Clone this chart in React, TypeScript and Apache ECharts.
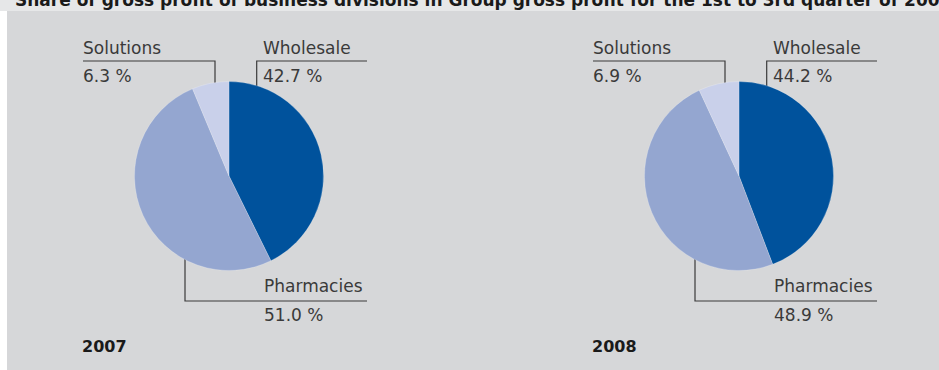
import React, { useEffect, useRef } from "react";
import * as echarts from "echarts";

const TITLE = "Share of gross profit of business divisions in Group gross profit for the 1st to 3rd quarter of 2008";
const categories = ["Wholesale", "Pharmacies", "Solutions"];
const years = ["2007", "2008"];
const values2007 = [42.7, 51.0, 6.3];
const values2008 = [44.2, 48.9, 6.9];
const sliceColors = ["#00529c", "#94a6d0", "#c9d0ea"];

const FONT = "'DejaVu Sans', 'Open Sans', sans-serif";
const TXT = "#3a3a3a";
const LINE = "#3a3a3a";

export default function App() {
  const ref = useRef<HTMLDivElement>(null);

  useEffect(() => {
    if (!ref.current) return;
    const chart = echarts.init(ref.current, null, { renderer: "svg" });

    const allValues = [values2007, values2008];
    const centersX = [229, 739];
    const offsets = [0, 510];

    const series = allValues.map((vals, i) => ({
      type: "pie",
      center: [centersX[i], 176],
      radius: 94.5,
      startAngle: 90,
      clockwise: true,
      silent: true,
      label: { show: false },
      labelLine: { show: false },
      itemStyle: { borderColor: "rgba(255,255,255,0.35)", borderWidth: 0.6 },
      data: categories.map((c, j) => ({
        name: c,
        value: vals[j],
        itemStyle: { color: sliceColors[j] },
      })),
    }));

    const textStyle = (size: number, weight: string | number = "normal") => ({
      fill: TXT,
      font: `${weight} ${size}px ${FONT}`,
      textAlign: "left",
      verticalAlign: "middle",
    });

    const graphics: any[] = [
      { type: "rect", shape: { x: 0, y: 0, width: 939, height: 11 }, style: { fill: "#e6e7e8" }, z: -10 },
      { type: "rect", shape: { x: 7, y: 11, width: 932, height: 359 }, style: { fill: "#d6d7d9" }, z: -10 },
      {
        type: "text",
        x: 15,
        y: 8.5,
        style: {
          text: TITLE,
          fill: "#1a1a1a",
          font: `bold 17px ${FONT}`,
          textAlign: "left",
          verticalAlign: "bottom",
        },
      },
    ];

    allValues.forEach((vals, i) => {
      const o = offsets[i];
      const fmt = (v: number) => `${v.toFixed(1)} %`;
      graphics.push(
        // Solutions label
        { type: "polyline", shape: { points: [[83 + o, 61], [215 + o, 61], [215 + o, 92]] }, style: { stroke: LINE, lineWidth: 1.2, fill: null } },
        { type: "text", x: 83 + o, y: 47.5, style: { ...textStyle(17), text: categories[2] } },
        { type: "text", x: 83 + o, y: 76, style: { ...textStyle(17), text: fmt(vals[2]) } },
        // Wholesale label
        { type: "polyline", shape: { points: [[367 + o, 61], [256.7 + o, 61], [256.7 + o, 96.7]] }, style: { stroke: LINE, lineWidth: 1.2, fill: null } },
        { type: "text", x: 263 + o, y: 47.5, style: { ...textStyle(17), text: categories[0] } },
        { type: "text", x: 263 + o, y: 76, style: { ...textStyle(17), text: fmt(vals[0]) } },
        // Pharmacies label
        { type: "polyline", shape: { points: [[185 + o, 247], [185 + o, 301], [367 + o, 301]] }, style: { stroke: LINE, lineWidth: 1.2, fill: null } },
        { type: "text", x: 264 + o, y: 286, style: { ...textStyle(17), text: categories[1] } },
        { type: "text", x: 264 + o, y: 315, style: { ...textStyle(17), text: fmt(vals[1]) } },
        // Year
        { type: "text", x: 82 + o, y: 346, style: { ...textStyle(16, "bold"), fill: "#1a1a1a", text: years[i] } }
      );
    });

    chart.setOption({
      animation: false,
      backgroundColor: "#ffffff",
      graphic: { elements: graphics },
      series,
    });

    return () => chart.dispose();
  }, []);

  return (
    <div
      ref={ref}
      style={{ position: "absolute", left: 0, top: 0, width: 939, height: 370 }}
    />
  );
}
